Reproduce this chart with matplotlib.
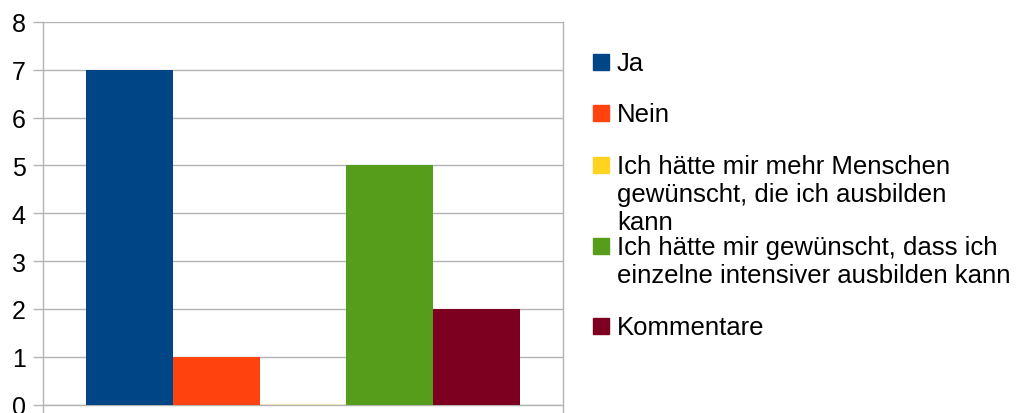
import matplotlib.pyplot as plt
from matplotlib.patches import Rectangle

plt.rcParams['font.family'] = ['Liberation Sans', 'DejaVu Sans']

series = ['Ja', 'Nein',
          'Ich hätte mir mehr Menschen\ngewünscht, die ich ausbilden\nkann',
          'Ich hätte mir gewünscht, dass ich\neinzelne intensiver ausbilden kann',
          'Kommentare']
values = [7, 1, 0, 5, 2]
colors = ['#004586', '#ff420e', '#ffd320', '#579d1c', '#7e0021']

fig = plt.figure(figsize=(10.17, 4.14), dpi=100)
W, H = 1017, 414
ax = fig.add_axes([43 / W, (414 - 405.6) / H, 520 / W, 382.6 / H])

width = 1 / 6
for i, (v, c) in enumerate(zip(values, colors)):
    x = -0.5 + width * (i + 1)
    ax.bar(x, v, width=width, color=c, edgecolor=c if v == 0 else 'none',
           linewidth=1, zorder=3)

ax.set_xlim(-0.5, 0.5)
ax.set_ylim(0, 8)
ax.set_yticks(range(0, 9))
ax.set_xticks([-0.5, 0.5])
ax.set_xticklabels([])
ax.grid(axis='y', color='#b3b3b3', linewidth=1, zorder=0)
for s in ax.spines.values():
    s.set_color('#b3b3b3')
    s.set_linewidth(1)
ax.spines['top'].set_visible(False)
ax.tick_params(axis='y', length=7.5, width=1, color='#b3b3b3', labelsize=18, pad=5)
ax.tick_params(axis='x', length=7.5, width=1, color='#b3b3b3')

# legend, drawn by hand to keep the LibreOffice spacing
label_y = [63, 114, 166, 247, 327]
for lab, c, y in zip(series, colors, label_y):
    fig.patches.append(Rectangle((593 / W, (H - y - 8) / H), 16 / W, 16 / H,
                                 transform=fig.transFigure, color=c))
    fig.text(617 / W, (H - y + 11) / H, lab, fontsize=18.5, va='top', ha='left',
             linespacing=1.2)

fig.savefig('out.png', dpi=100)
